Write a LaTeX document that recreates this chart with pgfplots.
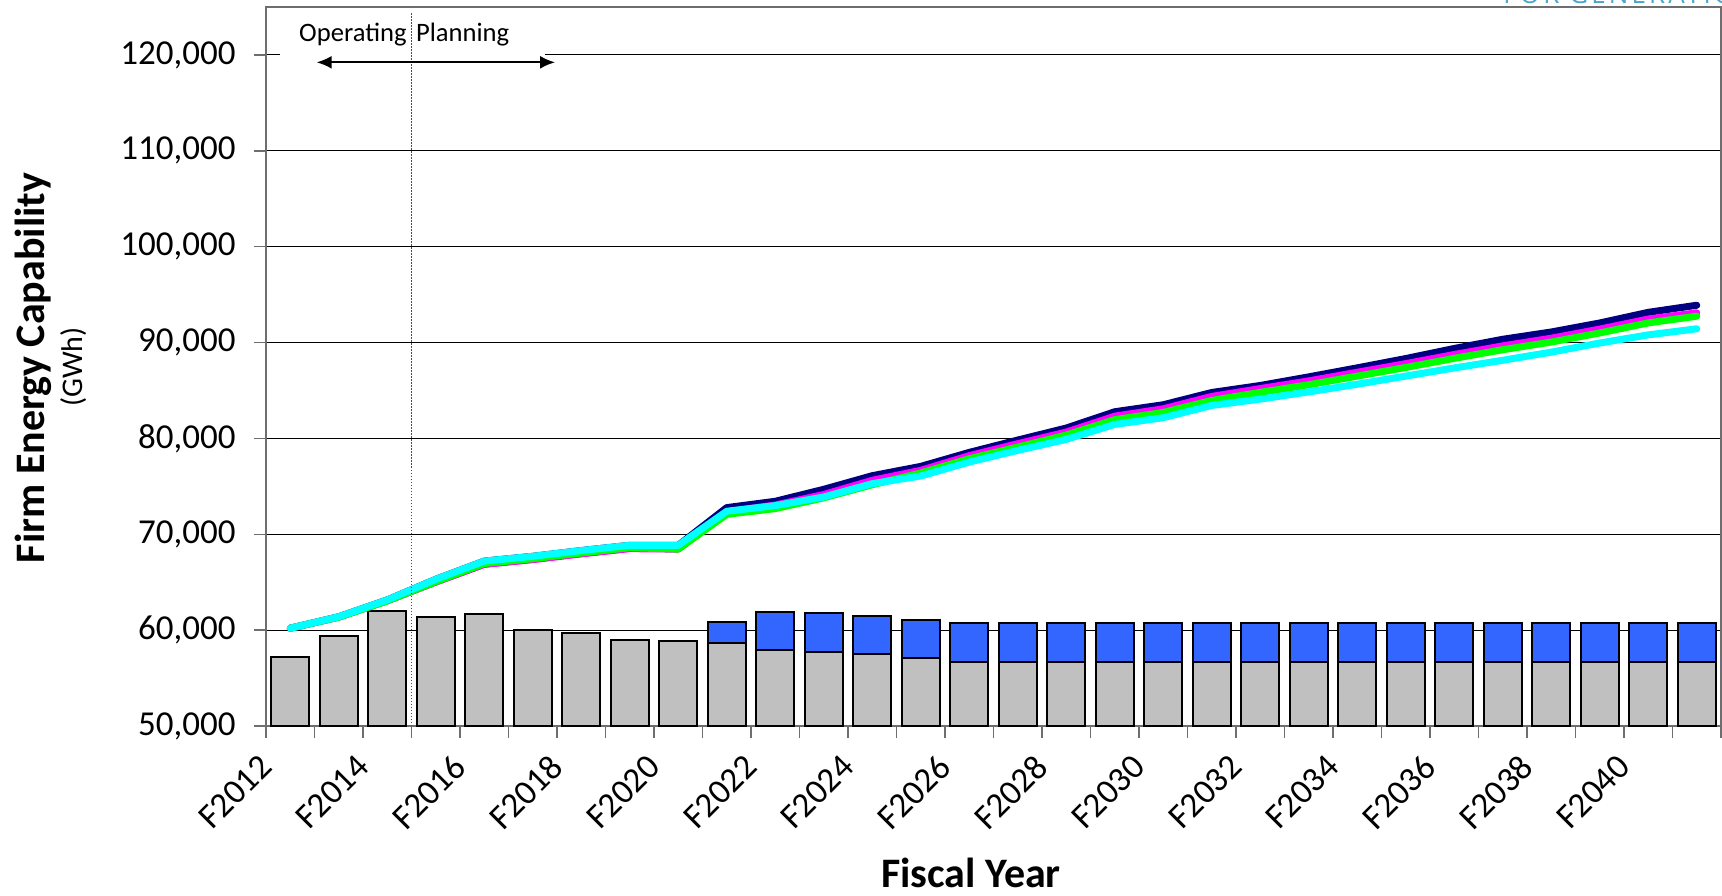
\documentclass[border=0pt]{standalone}
\usepackage{fontspec}
\setmainfont{Carlito}
\newfontfamily\bannerfont[LetterSpace=12]{Open Sans}
\usepackage{pgfplots}
\pgfplotsset{compat=1.18}
\usepackage{pgfplotstable}
\usetikzlibrary{arrows.meta}

\definecolor{existgray}{HTML}{C0C0C0}
\definecolor{newblue}{HTML}{3366FF}
\definecolor{lnavy}{HTML}{000080}
\definecolor{lmagenta}{HTML}{FF00FF}
\definecolor{lgreen}{HTML}{00FF00}
\definecolor{lcyan}{HTML}{00FFFF}
\definecolor{framegray}{HTML}{6E6E6E}
\definecolor{banner}{HTML}{4BA6CC}

% Firm energy capability (GWh): existing resources, total with new resources,
% and four load scenarios
\pgfplotstableread{
idx year  existing total navy  magenta green cyan
0   F2012 57200    57200 60200 60200   60200 60200
1   F2013 59420    59420 61400 61350   61350 61400
2   F2014 61970    61970 63150 63050   63050 63150
3   F2015 61400    61400 65300 65000   65050 65300
4   F2016 61680    61680 67200 66850   66950 67200
5   F2017 59980    59980 67700 67350   67450 67700
6   F2018 59700    59700 68300 67950   68050 68300
7   F2019 59000    59000 68850 68500   68600 68850
8   F2020 58870    58870 68850 68450   68450 68850
9   F2021 58630    60880 72780 72350   72080 72400
10  F2022 57930    61920 73440 73050   72680 72990
11  F2023 57750    61760 74690 74150   73800 73890
12  F2024 57480    61470 76110 75630   75170 75280
13  F2025 57060    61060 77080 76670   76390 76080
14  F2026 56710    60780 78540 78200   77880 77530
15  F2027 56710    60780 79830 79450   79100 78750
16  F2028 56710    60710 81080 80660   80350 79900
17  F2029 56710    60710 82780 82320   81950 81460
18  F2030 56710    60710 83510 83090   82710 82160
19  F2031 56710    60710 84790 84380   83960 83440
20  F2032 56710    60710 85520 85200   84800 84100
21  F2033 56710    60710 86420 86000   85600 84850
22  F2034 56710    60710 87360 86900   86500 85650
23  F2035 56710    60710 88330 87800   87400 86500
24  F2036 56710    60710 89380 88750   88350 87350
25  F2037 56710    60710 90340 89650   89250 88150
26  F2038 56710    60710 91100 90450   90050 89000
27  F2039 56710    60710 92040 91400   91000 89950
28  F2040 56710    60710 93150 92450   92050 90800
29  F2041 56710    60710 93890 93100   92750 91430
}\capability

\begin{document}
\begin{tikzpicture}
\begin{axis}[
  at={(133pt,84.5pt)}, anchor=south west,
  scale only axis, width=727.5pt, height=359.5pt,
  xmin=-0.5, xmax=29.5, ymin=50000, ymax=125000,
  axis line style={framegray, line width=0.8pt},
  tick align=outside,
  xtick pos=bottom, ytick pos=left,
  major tick length=6pt, minor tick length=6pt,
  tick style={framegray, line width=0.7pt},
  xtick={-0.5,1.5,3.5,5.5,7.5,9.5,11.5,13.5,15.5,17.5,19.5,21.5,23.5,25.5,27.5},
  minor xtick={0.5,2.5,4.5,6.5,8.5,10.5,12.5,14.5,16.5,18.5,20.5,22.5,24.5,26.5,28.5,29.5},
  xticklabels={F2012,F2014,F2016,F2018,F2020,F2022,F2024,F2026,F2028,F2030,F2032,F2034,F2036,F2038,F2040},
  xticklabel style={yshift=-11.5pt, rotate=45, anchor=east, inner sep=0pt,
    font=\fontsize{17.5}{20}\selectfont},
  ytick={50000,60000,70000,80000,90000,100000,110000,120000},
  yticklabels={{50,000},{60,000},{70,000},{80,000},{90,000},{100,000},{110,000},{120,000}},
  yticklabel style={anchor=east, inner sep=0pt, xshift=-9pt,
    font=\fontsize{17.5}{20}\selectfont},
  ymajorgrids,
  grid style={black, line width=0.55pt},
]
% total capability with new resources, then existing resources in front
\addplot[ybar, bar width=0.78, bar shift=0pt, fill=newblue, draw=black, line width=1pt]
  table[x=idx, y=total] {\capability};
\addplot[ybar, bar width=0.78, bar shift=0pt, fill=existgray, draw=black, line width=1pt]
  table[x=idx, y=existing] {\capability};

\addplot[lnavy, line width=3.5pt, line cap=round, line join=round, mark=none]
  table[x=idx, y=navy] {\capability};
\addplot[lmagenta, line width=3.5pt, line cap=round, line join=round, mark=none]
  table[x=idx, y=magenta] {\capability};
\addplot[lgreen, line width=3.5pt, line cap=round, line join=round, mark=none]
  table[x=idx, y=green] {\capability};
\addplot[lcyan, line width=3.5pt, line cap=round, line join=round, mark=none]
  table[x=idx, y=cyan] {\capability};

% operating / planning horizon annotation
\fill[white] (axis cs:-0.21,118220) rectangle (axis cs:5.25,124270);
\draw[red, line width=0.75pt, dash pattern=on 0.75pt off 0.75pt]
  (axis cs:2.5,50000) -- (axis cs:2.5,124400);
\node[anchor=base east, inner sep=0pt, font=\fontsize{13.3}{16}\selectfont]
  at (axis cs:2.407,121380) {Operating};
\node[anchor=base west, inner sep=0pt, font=\fontsize{13.3}{16}\selectfont]
  at (axis cs:2.587,121380) {Planning};
\draw[{Latex[length=7.5pt,width=6.5pt]}-{Latex[length=7.5pt,width=6.5pt]}, line width=1pt]
  (axis cs:0.545,119230) -- (axis cs:5.459,119230);
\end{axis}

\node[rotate=90, font=\fontsize{21}{25}\selectfont\bfseries] at (16.5pt,263.5pt) {Firm Energy Capability};
\node[rotate=90, font=\fontsize{15}{18}\selectfont] at (37pt,264pt) {(GWh)};
\node[anchor=base, inner sep=0pt, font=\fontsize{21}{25}\selectfont\bfseries] at (485.5pt,4pt) {Fiscal Year};
\node[anchor=base west, inner sep=0pt, text=banner, font=\bannerfont\fontsize{13}{15}\selectfont]
  at (751.5pt,445.5pt) {FOR GENERATION};

\pgfresetboundingbox
\useasboundingbox (0,0) rectangle (861pt,447.5pt);
\end{tikzpicture}
\end{document}
